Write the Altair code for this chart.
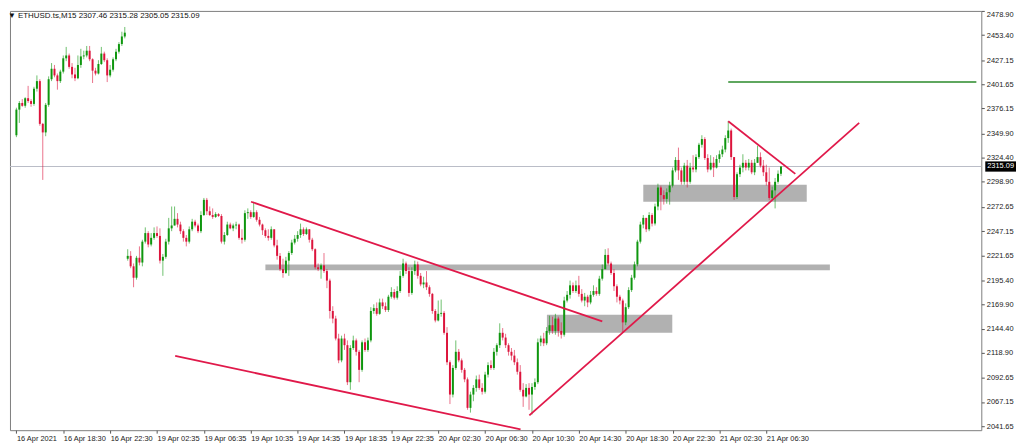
import altair as alt
import pandas as pd

# ---------------- data ----------------
# closes, highs, lows per 15-minute bar
close_a = [2375, 2382, 2379, 2387, 2384, 2381, 2397, 2405, 2360, 2351, 2380, 2407, 2418, 2411, 2405, 2415, 2429, 2432, 2420, 2412,
           2408, 2422, 2431, 2432, 2437, 2428, 2416, 2413, 2423, 2434, 2427, 2411, 2417, 2428, 2436, 2444, 2452, 2456]
high_a = [2377, 2384, 2386, 2388, 2400, 2386, 2399, 2411, 2407, 2361, 2382, 2410, 2424, 2422, 2413, 2417, 2432, 2441, 2434, 2424,
          2419, 2432, 2439, 2437, 2442, 2442, 2429, 2419, 2427, 2441, 2436, 2429, 2422, 2430, 2439, 2446, 2457, 2462]
low_a = [2346, 2361, 2378, 2377, 2382, 2378, 2379, 2394, 2358, 2301, 2347, 2378, 2405, 2409, 2396, 2403, 2413, 2426, 2418, 2408,
         2405, 2407, 2419, 2428, 2430, 2426, 2403, 2411, 2412, 2422, 2425, 2404, 2409, 2415, 2426, 2434, 2442, 2450]

close_b = [2221, 2210, 2198, 2219, 2214, 2236, 2245, 2233, 2240, 2245, 2242, 2216, 2220, 2236, 2250, 2253, 2260, 2254, 2247, 2240,
           2236, 2249, 2257, 2253, 2247, 2264, 2280, 2268]
high_b = [2228, 2226, 2213, 2221, 2231, 2238, 2251, 2247, 2245, 2251, 2252, 2250, 2223, 2239, 2261, 2273, 2273, 2266, 2257, 2249,
          2243, 2252, 2260, 2259, 2255, 2268, 2282, 2282]
low_b = [2216, 2208, 2188, 2196, 2211, 2210, 2234, 2230, 2231, 2238, 2240, 2213, 2200, 2218, 2233, 2247, 2254, 2251, 2244, 2236,
         2231, 2234, 2247, 2251, 2245, 2245, 2263, 2264]

close_c = [2264, 2262, 2265, 2263, 2236, 2243, 2254, 2250, 2253, 2254, 2240, 2238, 2266, 2267, 2262, 2267, 2259, 2254, 2248, 2242,
           2240, 2249, 2232, 2221, 2207, 2203, 2216, 2224, 2235, 2239, 2243, 2249, 2244, 2249, 2238, 2228, 2209, 2207, 2211, 2205,
           2195, 2163, 2155, 2134, 2111, 2134, 2127, 2088, 2124, 2132, 2120, 2101, 2130, 2122, 2132, 2163, 2166, 2160, 2172, 2168,
           2164, 2178, 2183, 2177, 2184]
high_c = [2273, 2271, 2267, 2266, 2265, 2246, 2257, 2256, 2255, 2257, 2255, 2249, 2269, 2271, 2269, 2278, 2269, 2262, 2255, 2250,
          2249, 2252, 2247, 2238, 2224, 2218, 2220, 2226, 2238, 2243, 2247, 2255, 2251, 2251, 2248, 2240, 2229, 2213, 2213, 2224,
          2207, 2197, 2168, 2158, 2139, 2137, 2139, 2132, 2127, 2137, 2134, 2122, 2132, 2134, 2135, 2167, 2170, 2172, 2176, 2176,
          2172, 2180, 2188, 2186, 2189]
low_c = [2263, 2260, 2261, 2262, 2234, 2233, 2242, 2249, 2247, 2249, 2238, 2234, 2236, 2260, 2260, 2261, 2257, 2252, 2243, 2240,
         2237, 2238, 2230, 2217, 2205, 2198, 2202, 2200, 2222, 2233, 2236, 2240, 2242, 2243, 2235, 2226, 2207, 2205, 2197, 2203,
         2187, 2155, 2150, 2132, 2108, 2109, 2122, 2085, 2080, 2122, 2116, 2088, 2099, 2120, 2120, 2130, 2160, 2158, 2159, 2165,
         2162, 2162, 2176, 2175, 2175]

close_d = [2200, 2213, 2205, 2182, 2205, 2212, 2200, 2191, 2193, 2188, 2181, 2163, 2153, 2160, 2161, 2140, 2109, 2075, 2103, 2120,
           2111, 2101, 2091, 2061, 2075, 2082, 2091, 2082, 2078, 2096, 2106, 2103, 2120, 2127, 2140, 2135, 2127, 2120, 2116, 2109,
           2099, 2080, 2073, 2082, 2075, 2083, 2088, 2130, 2134, 2129, 2142, 2148, 2142, 2155, 2142, 2138, 2174, 2180, 2190, 2184,
           2190, 2181, 2174, 2178, 2172]
high_d = [2205, 2218, 2215, 2209, 2209, 2216, 2215, 2203, 2199, 2205, 2190, 2182, 2165, 2174, 2175, 2163, 2146, 2111, 2106, 2132,
          2123, 2113, 2103, 2093, 2078, 2085, 2095, 2096, 2087, 2099, 2109, 2111, 2124, 2129, 2150, 2145, 2139, 2129, 2124, 2122,
          2113, 2106, 2087, 2086, 2087, 2087, 2092, 2134, 2137, 2140, 2146, 2158, 2157, 2160, 2157, 2151, 2178, 2184, 2195, 2193,
          2195, 2200, 2186, 2182, 2180]
low_d = [2182, 2198, 2202, 2178, 2180, 2201, 2197, 2189, 2187, 2185, 2178, 2160, 2151, 2152, 2157, 2138, 2106, 2065, 2072, 2101,
         2109, 2098, 2088, 2059, 2056, 2068, 2078, 2080, 2075, 2076, 2093, 2101, 2101, 2116, 2124, 2132, 2124, 2116, 2111, 2106,
         2096, 2078, 2062, 2072, 2059, 2054, 2080, 2086, 2126, 2126, 2127, 2138, 2139, 2138, 2136, 2134, 2136, 2172, 2176, 2182,
         2182, 2178, 2172, 2168, 2167]

close_e = [2180, 2184, 2181, 2197, 2207, 2222, 2213, 2203, 2189, 2178, 2174, 2151, 2167, 2185, 2198, 2212, 2236, 2254, 2261, 2249,
           2264, 2255, 2273, 2293, 2285, 2281, 2288, 2295, 2311, 2322, 2311, 2299, 2316, 2299, 2314, 2312, 2325, 2338, 2344, 2324,
           2312, 2319, 2314, 2323, 2328, 2333, 2345, 2353, 2325, 2283, 2307, 2314, 2319, 2314, 2319, 2309, 2319, 2325, 2316, 2309,
           2299, 2282, 2290, 2299, 2307.46, 2315.09]
high_e = [2184, 2190, 2188, 2200, 2212, 2228, 2229, 2215, 2207, 2191, 2180, 2176, 2171, 2188, 2201, 2215, 2238, 2257, 2264, 2260,
          2267, 2266, 2276, 2297, 2295, 2290, 2292, 2299, 2314, 2325, 2335, 2314, 2319, 2322, 2319, 2327, 2328, 2340, 2348, 2346,
          2328, 2327, 2325, 2327, 2332, 2337, 2348, 2363, 2355, 2325, 2309, 2317, 2328, 2322, 2323, 2322, 2323, 2337, 2330, 2322,
          2317, 2314, 2294, 2303, 2311, 2315.28]
low_e = [2170, 2178, 2179, 2179, 2195, 2207, 2211, 2201, 2184, 2172, 2170, 2140, 2148, 2165, 2183, 2196, 2210, 2234, 2250, 2246,
         2247, 2252, 2253, 2269, 2269, 2275, 2276, 2275, 2293, 2309, 2301, 2296, 2296, 2293, 2297, 2309, 2309, 2323, 2335, 2322,
         2309, 2311, 2304, 2313, 2319, 2325, 2330, 2340, 2322, 2280, 2281, 2304, 2309, 2311, 2311, 2307, 2306, 2319, 2314, 2305,
         2295, 2280, 2280, 2271, 2297, 2305.05]

gap_opens = {0: 2348, 38: 2218}   # first bar and first bar after the weekend gap

closes = close_a + close_b + close_c + close_d + close_e
highs = high_a + high_b + high_c + high_d + high_e
lows = low_a + low_b + low_c + low_d + low_e

# axis ticks
y_ticks = [2478.90, 2453.40, 2427.15, 2401.65, 2376.15, 2349.90, 2324.40, 2298.90, 2272.65, 2247.15,
           2221.65, 2195.40, 2169.90, 2144.40, 2118.90, 2092.65, 2067.15, 2041.65]
x_tick_labels = ["16 Apr 2021", "16 Apr 18:30", "16 Apr 22:30", "19 Apr 02:35", "19 Apr 06:35", "19 Apr 10:35",
                 "19 Apr 14:35", "19 Apr 18:35", "19 Apr 22:35", "20 Apr 02:30", "20 Apr 06:30", "20 Apr 10:30",
                 "20 Apr 14:30", "20 Apr 18:30", "20 Apr 22:30", "21 Apr 02:30", "21 Apr 06:30"]
x_tick_bars = [16 * k for k in range(len(x_tick_labels))]

# drawn objects (bar index, price)
zone_x1 = [85.0, 181.1, 214.0]
zone_x2 = [277.7, 223.9, 269.8]
zone_top = [2212, 2159, 2296]
zone_bot = [2206, 2140, 2278]

trend_x1 = [80.1, 54.2, 175.1, 243.0]
trend_x2 = [200.0, 172.1, 287.7, 265.9]
trend_p1 = [2278, 2115.6, 2053, 2362.7]
trend_p2 = [2152, 2038.4, 2361, 2307.3]

level_x1 = [243.0]
level_price = [2404]
last_price = 2315.09
title_text = "▼ ETHUSD.ts,M15  2307.46 2315.28 2305.05 2315.09"

# ---------------- build tables ----------------
n = len(closes)
assert len(highs) == n and len(lows) == n, (n, len(highs), len(lows))
opens = [gap_opens[i] if i in gap_opens else closes[i - 1] for i in range(n)]
candles = pd.DataFrame({
    "i": list(range(n)),
    "open": opens,
    "close": closes,
    "high": [max(h, o, c) for h, o, c in zip(highs, opens, closes)],
    "low": [min(l, o, c) for l, o, c in zip(lows, opens, closes)],
})
candles["dir"] = ["up" if c >= o else "down" for o, c in zip(opens, closes)]

X_MIN, X_MAX = -0.5, 327.7
Y_MIN, Y_MAX = 2037.5, 2478.9
GREEN, RED = "#0e960e", "#dc143c"

xs = alt.Scale(domain=[X_MIN, X_MAX], nice=False, zero=False)
ys = alt.Scale(domain=[Y_MIN, Y_MAX], nice=False, zero=False)
col = alt.Color("dir:N", scale=alt.Scale(domain=["up", "down"], range=[GREEN, RED]), legend=None)

label_expr = "[" + ",".join("'%s'" % s for s in x_tick_labels) + "][round(datum.value/16)]"

x_axis = alt.Axis(values=x_tick_bars, labelExpr=label_expr, labelAlign="left", labelBaseline="top",
                  labelFont="Liberation Sans", labelFontSize=7.5, labelColor="#222222", labelPadding=1,
                  tickSize=3, tickColor="#555555", domain=False, grid=False, title=None, labelOverlap=False,
                  labelFlush=False)
y_axis = alt.Axis(orient="right", values=y_ticks, format=".2f", labelFont="Liberation Sans", labelFontSize=7.5,
                  labelColor="#222222", labelPadding=2, tickSize=3, tickColor="#555555", domain=False,
                  grid=False, title=None, labelOverlap=False, labelFlush=True)


def X(field):
    return alt.X(field, scale=xs, axis=x_axis)


def Y(field):
    return alt.Y(field, scale=ys, axis=y_axis)


zones = alt.Chart(pd.DataFrame({"x1": zone_x1, "x2": zone_x2, "top": zone_top, "bot": zone_bot})).mark_rect(
    color="#b1b1b1").encode(x=X("x1:Q"), x2="x2:Q", y=Y("top:Q"), y2="bot:Q")

price_line = alt.Chart(pd.DataFrame({"p": [last_price]})).mark_rule(color="#b9bcc6", strokeWidth=1).encode(
    y=Y("p:Q"))

level = alt.Chart(pd.DataFrame({"x1": level_x1, "x2": [X_MAX], "p": level_price})).mark_rule(
    color="#2a8a2a", strokeWidth=1.6).encode(x=X("x1:Q"), x2="x2:Q", y=Y("p:Q"))

wicks = alt.Chart(candles).mark_rule(strokeWidth=1, opacity=0.6).encode(
    x=X("i:Q"), y=Y("low:Q"), y2="high:Q", color=col)

bodies = alt.Chart(candles).mark_bar(size=2).encode(
    x=X("i:Q"), y=Y("open:Q"), y2="close:Q", color=col)

trends = alt.Chart(pd.DataFrame({"x1": trend_x1, "x2": trend_x2, "p1": trend_p1, "p2": trend_p2})).mark_rule(
    color="#e0194a", strokeWidth=1.8, clip=True).encode(
    x=X("x1:Q"), x2="x2:Q", y=Y("p1:Q"), y2="p2:Q")

title = alt.Chart(pd.DataFrame({"t": [title_text]})).mark_text(
    align="left", baseline="top", font="Liberation Sans", fontSize=8, color="#111111").encode(
    x=alt.value(-2), y=alt.value(1), text="t:N")

tag_df = pd.DataFrame({"p": [last_price], "hi": [last_price + 5.4], "lo": [last_price - 5.4],
                       "t": ["%.2f" % last_price]})
tag_box = alt.Chart(tag_df).mark_rect(color="#000000").encode(
    x=alt.value(984), x2=alt.value(1015), y=Y("hi:Q"), y2="lo:Q")
tag_txt = alt.Chart(tag_df).mark_text(align="center", baseline="middle", font="Liberation Sans", fontSize=7.5,
                                      color="#ffffff").encode(
    x=alt.value(999.5), y=Y("p:Q"), text="t:N")

chart = alt.layer(zones, price_line, level, wicks, bodies, trends, title, tag_box, tag_txt).properties(
    width=980, height=423, padding=0, background="#ffffff"
).configure_view(stroke="#7d7d7d", strokeWidth=1
).configure_axisY(labelOverlap=False).configure_axisX(labelOverlap=False)

chart.save("out.html", embed_options={"renderer": "svg", "actions": False})
